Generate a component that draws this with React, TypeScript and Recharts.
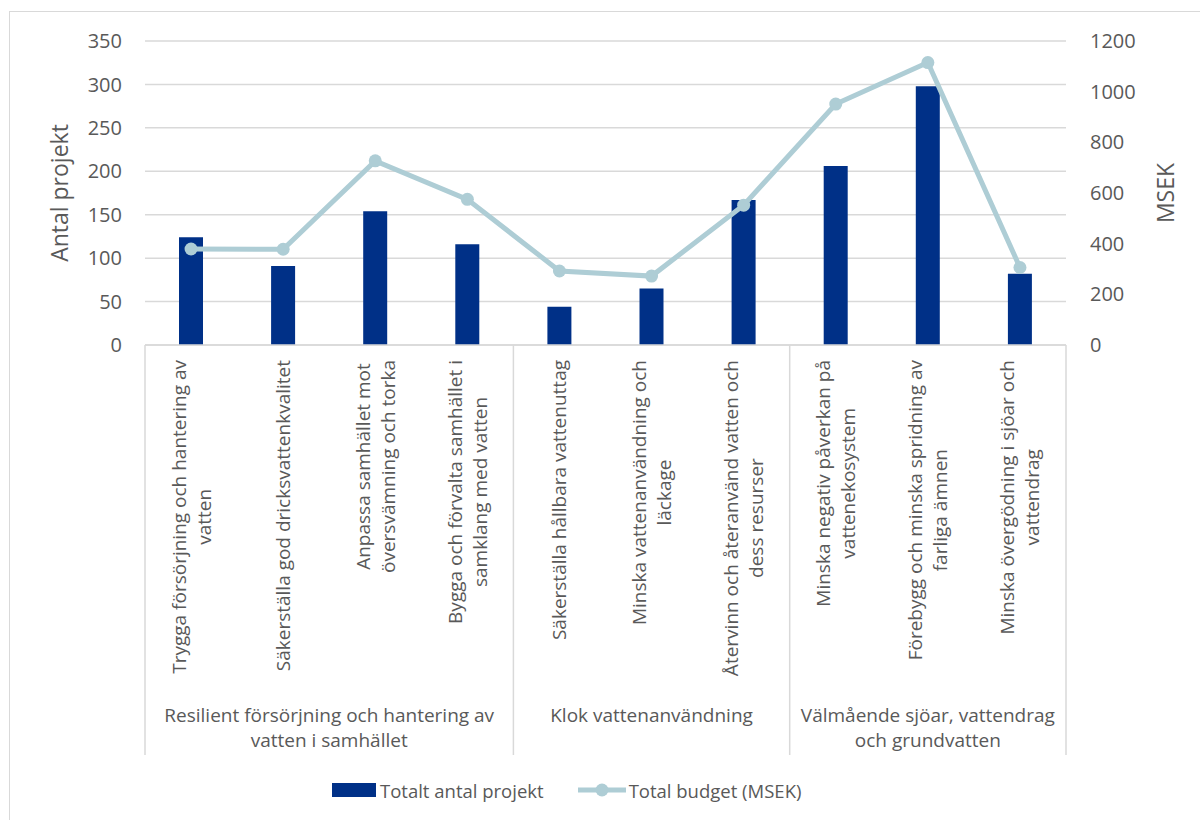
import React from 'react';
import { ComposedChart, Bar, Line, XAxis, YAxis, CartesianGrid } from 'recharts';

const categories = [
  'Trygga försörjning och hantering av vatten',
  'Säkerställa god dricksvattenkvalitet',
  'Anpassa samhället mot översvämning och torka',
  'Bygga och förvalta samhället i samklang med vatten',
  'Säkerställa hållbara vattenuttag',
  'Minska vattenanvändning och läckage',
  'Återvinn och återanvänd vatten och dess resurser',
  'Minska negativ påverkan på vattenekosystem',
  'Förebygg och minska spridning av farliga ämnen',
  'Minska övergödning i sjöar och vattendrag',
];

// line breaks as in the original
const categoryLines = [
  ['Trygga försörjning och hantering av', 'vatten'],
  ['Säkerställa god dricksvattenkvalitet'],
  ['Anpassa samhället mot', 'översvämning och torka'],
  ['Bygga och förvalta samhället i', 'samklang med vatten'],
  ['Säkerställa hållbara vattenuttag'],
  ['Minska vattenanvändning och', 'läckage'],
  ['Återvinn och återanvänd vatten och', 'dess resurser'],
  ['Minska negativ påverkan på', 'vattenekosystem'],
  ['Förebygg och minska spridning av', 'farliga ämnen'],
  ['Minska övergödning i sjöar och', 'vattendrag'],
];

const groupLines = [
  ['Resilient försörjning och hantering av', 'vatten i samhället'],
  ['Klok vattenanvändning'],
  ['Välmående sjöar, vattendrag', 'och grundvatten'],
];
const groupStart = [0, 4, 7];

const projects = [124, 91, 154, 116, 44, 65, 167, 206, 298, 82];
const budget = [379, 378, 727, 575, 292, 272, 552, 951, 1115, 306];

const leftTicks = [0, 50, 100, 150, 200, 250, 300, 350];
const rightTicks = [0, 200, 400, 600, 800, 1000, 1200];

const data = categories.map((name, i) => ({ name, projects: projects[i], budget: budget[i] }));

const FONT = '"Open Sans", sans-serif';
const FS = 19;
const TEXT = '#595959';
const GRID = '#d9d9d9';
const BAR = '#003087';
const LINE = '#aecdd5';

const W = 1200;
const H = 820;
const margin = { top: 41, right: 14, bottom: 60, left: 45 };
const leftW = 100;
const rightW = 120;
const plotW = W - margin.left - margin.right - leftW - rightW;
const BAND = plotW / categories.length;
const SEP_BOTTOM = 755;

let ctx: CanvasRenderingContext2D | null = null;
const measure = (s: string) => {
  if (!ctx) ctx = document.createElement('canvas').getContext('2d');
  if (!ctx) return s.length * FS * 0.5;
  ctx.font = `${FS}px ${FONT}`;
  return ctx.measureText(s).width;
};

const CategoryTick = (props: any) => {
  const { x, y, index } = props;
  const lines = categoryLines[index];
  const maxLen = Math.max(...lines.map(measure));
  const top = y + 15;
  const half = BAND / 2;
  const gi = groupStart.indexOf(index);
  const gEnd = gi >= 0 ? (groupStart[gi + 1] ?? categories.length) : 0;
  const gx = x - half + ((gEnd - index) * BAND) / 2;
  return (
    <g>
      {lines.map((l, k) => {
        const dx = (k - (lines.length - 1) / 2) * 25;
        return (
          <text
            key={k}
            transform={`translate(${x + dx}, ${top}) rotate(-90)`}
            x={-maxLen / 2}
            y={0}
            textAnchor="middle"
            dominantBaseline="central"
            fontFamily={FONT}
            fontSize={FS}
            fill={TEXT}
          >
            {l}
          </text>
        );
      })}
      {gi >= 0 && <line x1={x - half} x2={x - half} y1={y} y2={SEP_BOTTOM} stroke={GRID} strokeWidth={1.5} />}
      {index === categories.length - 1 && (
        <line x1={x + half} x2={x + half} y1={y} y2={SEP_BOTTOM} stroke={GRID} strokeWidth={1.5} />
      )}
      {gi >= 0 &&
        groupLines[gi].map((l, k) => (
          <text
            key={`g${k}`}
            x={gx}
            y={715 + k * 25}
            textAnchor="middle"
            dominantBaseline="central"
            fontFamily={FONT}
            fontSize={FS}
            fill={TEXT}
          >
            {l}
          </text>
        ))}
    </g>
  );
};

const tickStyle = { fontFamily: FONT, fontSize: FS + 1, fill: TEXT };

export default function App() {
  return (
    <div style={{ position: 'absolute', left: 0, top: 0, width: W, height: H, background: '#fff', overflow: 'hidden' }}>
      <div
        style={{
          position: 'absolute',
          left: 9,
          top: 11,
          width: W,
          height: H,
          borderLeft: `1.5px solid ${GRID}`,
          borderTop: `1.5px solid ${GRID}`,
        }}
      />
      <div style={{ position: 'absolute', left: 0, top: 0 }}>
        <ComposedChart width={W} height={H} data={data} margin={margin}>
          <CartesianGrid yAxisId="left" vertical={false} stroke={GRID} strokeWidth={1.5} />
          <XAxis
            dataKey="name"
            height={415}
            interval={0}
            tickLine={false}
            tickSize={0}
            tickMargin={0}
            axisLine={{ stroke: GRID, strokeWidth: 1.5 }}
            tick={<CategoryTick />}
          />
          <YAxis
            yAxisId="left"
            width={leftW}
            domain={[0, 350]}
            ticks={leftTicks}
            axisLine={false}
            tickLine={false}
            tickSize={0}
            tickMargin={23}
            tick={tickStyle}
            label={{
              value: 'Antal projekt',
              angle: -90,
              position: 'insideLeft',
              offset: 15,
              style: { fontFamily: FONT, fontSize: 23, fill: TEXT, textAnchor: 'middle' },
            }}
          />
          <YAxis
            yAxisId="right"
            orientation="right"
            width={rightW}
            domain={[0, 1200]}
            ticks={rightTicks}
            axisLine={false}
            tickLine={false}
            tickSize={0}
            tickMargin={24}
            tick={tickStyle}
            label={{
              value: 'MSEK',
              angle: -90,
              position: 'insideRight',
              offset: 20,
              style: { fontFamily: FONT, fontSize: 23, fill: TEXT, textAnchor: 'middle' },
            }}
          />
          <Bar yAxisId="left" dataKey="projects" fill={BAR} barSize={24} isAnimationActive={false} />
          <Line
            yAxisId="right"
            dataKey="budget"
            stroke={LINE}
            strokeWidth={5}
            dot={{ r: 6.5, fill: LINE, stroke: 'none' }}
            activeDot={false}
            isAnimationActive={false}
          />
        </ComposedChart>
      </div>
      <div
        style={{
          position: 'absolute',
          top: 778,
          left: 332,
          display: 'flex',
          alignItems: 'center',
          fontFamily: FONT,
          fontSize: 18.5,
          color: TEXT,
          height: 24,
        }}
      >
        <div style={{ width: 44, height: 14, background: BAR, marginRight: 4 }} />
        <span>Totalt antal projekt</span>
        <svg width={48} height={16} style={{ marginLeft: 34, marginRight: 3 }}>
          <line x1={0} x2={48} y1={8} y2={8} stroke={LINE} strokeWidth={5} />
          <circle cx={24} cy={8} r={6.5} fill={LINE} />
        </svg>
        <span>Total budget (MSEK)</span>
      </div>
    </div>
  );
}
